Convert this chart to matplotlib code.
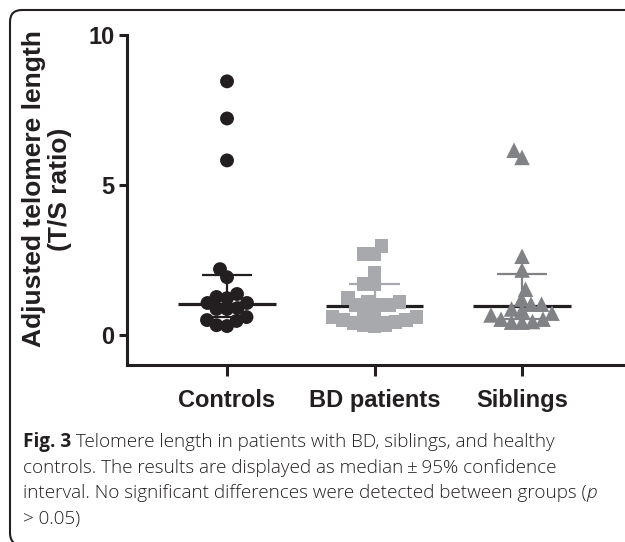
import numpy as np
import matplotlib
matplotlib.use("Agg")
import matplotlib.pyplot as plt
from matplotlib.patches import FancyBboxPatch
from matplotlib.transforms import IdentityTransform


# ---------------- DATA ----------------
groups = ["Controls", "BD patients", "Siblings"]

controls = [8.47, 7.23, 5.83, 2.2, 1.93, 1.37, 1.27, 1.23, 1.07, 1.07,
            0.9, 0.87, 0.87, 0.6, 0.5, 0.47, 0.33, 0.3]
bd_patients = [2.97, 2.7, 2.7, 2.07, 1.7, 1.7, 1.23, 1.1, 1.1, 1.0, 1.0,
               1.0, 0.77, 0.67, 0.6, 0.6, 0.5, 0.5, 0.45, 0.4, 0.35, 0.33, 0.3]
siblings = [6.17, 5.93, 2.63, 2.17, 1.53, 1.2, 1.03, 1.03, 0.87, 0.83,
            0.73, 0.67, 0.53, 0.53, 0.45, 0.43, 0.43]

medians = [1.05, 0.97, 0.97]
ci_low = [0.6, 0.6, 0.55]
ci_high = [2.0, 1.7, 2.03]

caption_lines = [
    [("Fig. 3", "bold"), (" Telomere length in patients with BD, siblings, and healthy", "normal")],
    [("controls. The results are displayed as median\u2009\u00b1\u200995% confidence", "normal")],
    [("interval. No significant differences were detected between groups (", "normal"),
     ("p", "italic")],
    [("> 0.05)", "normal")],
]
# -------------------------------------------------------------

W, H = 625, 542
marker_colors = ["#231f20", "#a7a9ac", "#808285"]
bar_colors = ["#231f20", "#a7a9ac", "#808285"]
markers = ["o", "s", "^"]
marker_sizes = [100, 100, 125]

plt.rcParams["font.family"] = ["Liberation Sans", "DejaVu Sans"]

fig = plt.figure(figsize=(W / 100, H / 100), dpi=100)
ax = fig.add_axes([127 / W, (H - 365) / H, (W - 127) / W, (365 - 35.5) / H])
ax.set_xlim(-0.678, 2.698)
ax.set_ylim(-1.0, 10.0)


def swarm(x0, values, diam):
    """Place points beeswarm-style around x0 (pixel maths in display space)."""
    pts = ax.transData.transform(np.column_stack([np.full(len(values), x0), values]))
    order = np.argsort(pts[:, 1])
    placed = []
    xs = np.zeros(len(values))
    for i in order:
        px, py = pts[i]
        for k in range(0, 200):
            for sgn in ((1,) if k == 0 else (-1, 1)):
                cx = px + sgn * k * 0.5
                if all((cx - qx) ** 2 + (py - qy) ** 2 >= diam ** 2 for qx, qy in placed):
                    break
            else:
                continue
            break
        placed.append((cx, py))
        xs[i] = cx
    back = ax.transData.inverted().transform(np.column_stack([xs, pts[:, 1]]))
    return back[:, 0]


for i, vals in enumerate([controls, bd_patients, siblings]):
    # median line and 95% CI
    ax.plot([i - 0.33, i + 0.33], [medians[i]] * 2, color="#231f20", lw=2.3,
            solid_capstyle="butt", zorder=2)
    ax.plot([i, i], [ci_low[i], ci_high[i]], color=bar_colors[i], lw=1.6, zorder=2)
    ax.plot([i - 0.17, i + 0.17], [ci_high[i]] * 2, color=bar_colors[i], lw=1.6,
            solid_capstyle="butt", zorder=2)
    ax.plot([i - 0.17, i + 0.17], [ci_low[i]] * 2, color=bar_colors[i], lw=1.6,
            solid_capstyle="butt", zorder=2)
    xs = swarm(i, vals, 10.5)
    ax.scatter(xs, vals, s=marker_sizes[i], marker=markers[i], color=marker_colors[i],
               edgecolors="none", zorder=3, clip_on=False)

for side in ["top", "right"]:
    ax.spines[side].set_visible(False)
for side in ["left", "bottom"]:
    ax.spines[side].set_linewidth(2.2)
    ax.spines[side].set_color("#231f20")
ax.spines["left"].set_bounds(-1.0, 10.0)

ax.set_yticks([0, 5, 10])
ax.set_yticklabels(["0", "5", "10"], fontsize=17, fontweight="bold")
ax.set_xticks(range(len(groups)))
ax.set_xticklabels(groups, fontsize=17, fontweight="bold")
ax.tick_params(axis="y", length=6, width=2.2, pad=3, color="#231f20", labelcolor="#231f20")
ax.tick_params(axis="x", length=8, width=2.2, pad=9, color="#231f20", labelcolor="#231f20")

fig.text(47 / W, 1 - 189 / H, "Adjusted telomere length\n(T/S ratio)", rotation=90,
         ha="center", va="center", multialignment="center", fontsize=19,
         fontweight="bold", color="#231f20", linespacing=1.08)

# rounded frame around the figure panel
frame = FancyBboxPatch((10, -3), 700, H - 10 + 3, boxstyle="round,pad=0,rounding_size=12",
                       transform=IdentityTransform(), fill=False, lw=1.5, ec="#231f20")
fig.add_artist(frame)

# caption, written piece by piece so the bold / italic parts flow inline
renderer = fig.canvas.get_renderer()
baselines = [447, 473, 498, 524]
for line, base in zip(caption_lines, baselines):
    x = 23
    for text, style in line:
        t = fig.text(x, H - base, text, transform=IdentityTransform(), va="baseline",
                     ha="left", fontsize=13.6, family=["Open Sans", "DejaVu Sans"],
                     fontweight="bold" if style == "bold" else "light",
                     fontstyle="italic" if style == "italic" else "normal",
                     color="#231f20")
        x = t.get_window_extent(renderer).x1

fig.savefig("out.png", dpi=100)
